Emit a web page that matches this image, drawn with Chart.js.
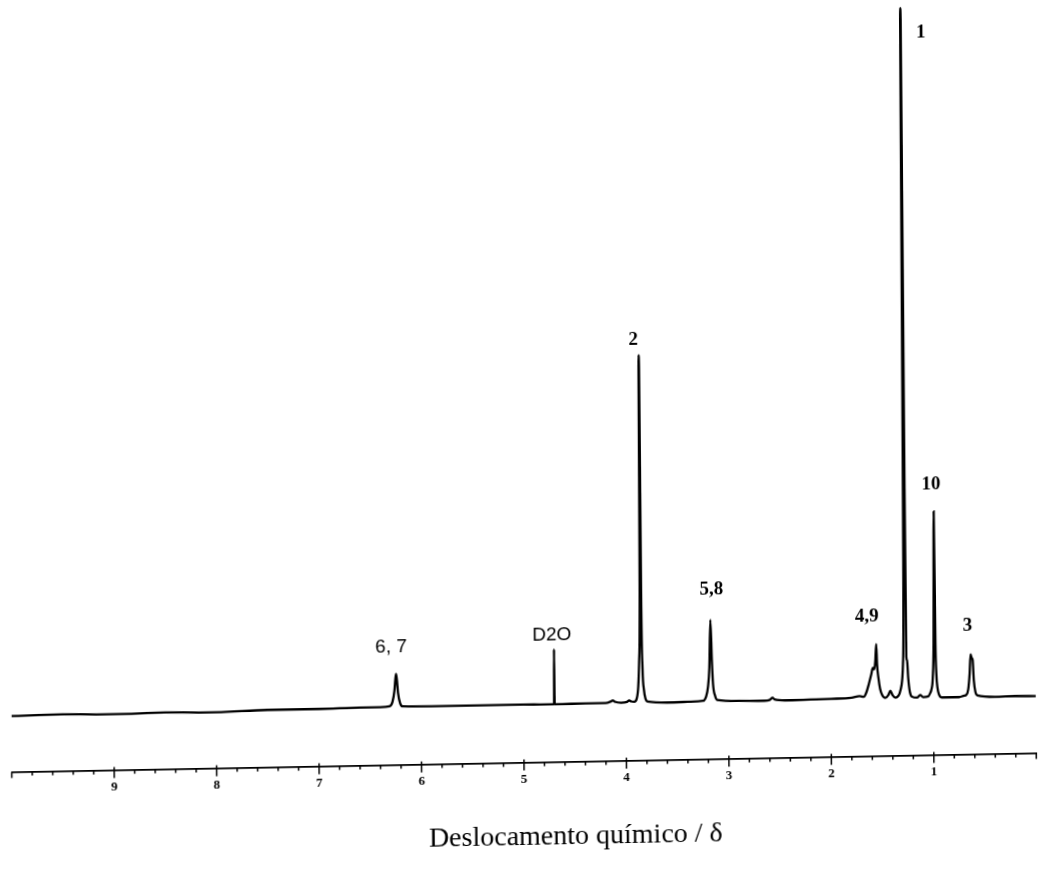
<!DOCTYPE html>
<html>
<head>
<meta charset="utf-8">
<script src="https://cdn.jsdelivr.net/npm/chart.js@4.4.0/dist/chart.umd.min.js"></script>
<style>
  html, body { margin: 0; padding: 0; background: #fff; overflow: hidden; }
  #wrap { width: 1039px; height: 873px; position: relative; }
  #c { display: block; transform-origin: 519.5px 436.5px; transform: matrix(1, -0.0185, 0.007, 1, 0, 0); }
</style>
</head>
<body>
<div id="wrap"><canvas id="c" width="1039" height="873"></canvas></div>
<script>
// Spectrum trace: chemical shift (ppm) and intensity (arbitrary units)
const shiftPpm = [
  10.0, 9.5, 9.0, 8.5, 8.0, 7.5, 7.0, 6.6, 6.40,
  6.31, 6.28, 6.26, 6.25, 6.243, 6.235, 6.225, 6.205, 6.18,
  5.9, 5.5, 5.0, 4.8, 4.72, 4.703, 4.700, 4.697, 4.68,
  4.4, 4.2, 4.15, 4.13, 4.11, 4.05, 3.99, 3.97, 3.95,
  3.92, 3.895, 3.88, 3.87, 3.86, 3.855, 3.851, 3.846, 3.837, 3.825, 3.81, 3.79,
  3.6, 3.4, 3.25,
  3.24, 3.22, 3.20, 3.185, 3.172, 3.16, 3.15, 3.13, 3.11,
  2.9, 2.65, 2.60, 2.57, 2.55, 2.45, 2.2, 2.0, 1.8, 1.72,
  1.68, 1.655, 1.63, 1.605, 1.59, 1.575, 1.565, 1.555, 1.548, 1.535, 1.52, 1.50, 1.47, 1.44, 1.42, 1.40, 1.37, 1.34,
  1.33, 1.31, 1.295, 1.285, 1.278, 1.274, 1.268, 1.262, 1.255, 1.245, 1.23, 1.21,
  1.16, 1.13, 1.10, 1.05, 1.03,
  1.02, 1.005, 0.995, 0.985, 0.977, 0.97, 0.96, 0.945, 0.92,
  0.75, 0.70,
  0.68, 0.66, 0.645, 0.635, 0.625, 0.615, 0.605, 0.59, 0.57,
  0.4, 0.2, 0.0
];
const intensity = [
  -0.1, 0.0, -0.1, 0.0, -0.1, 0.1, 0.1, 0.2, 0.2,
  0.3, 0.9, 2.5, 4.2, 4.9, 4.0, 2.2, 0.7, 0.25,
  0.2, 0.2, 0.2, 0.15, 0.15, 0.15, 8.0, 0.15, 0.15,
  0.2, 0.2, 0.4, 0.55, 0.35, 0.2, 0.3, 0.5, 0.35,
  0.3, 0.8, 2.5, 6.0, 16.0, 49.8, 48.0, 16.0, 5.0, 2.0, 0.7, 0.3,
  0.1, 0.15, 0.25,
  0.3, 0.8, 2.2, 5.0, 11.8, 6.0, 2.6, 0.9, 0.35,
  0.15, 0.1, 0.2, 0.5, 0.25, 0.1, 0.15, 0.2, 0.3, 0.5,
  0.4, 1.0, 2.2, 3.6, 4.5, 4.3, 5.5, 7.9, 5.0, 3.0, 1.5, 0.6, 0.2, 0.6, 1.2, 0.6, 0.2, 0.5,
  0.8, 2.0, 5.0, 20.0, 98.7, 97.0, 30.0, 6.0, 5.5, 3.0, 1.0, 0.3,
  0.15, 0.5, 0.2, 0.3, 0.8,
  1.2, 3.0, 8.0, 26.7, 8.0, 3.5, 1.5, 0.5, 0.1,
  0.1, 0.3,
  0.4, 1.2, 3.5, 6.2, 5.7, 5.4, 2.5, 0.8, 0.3,
  0.05, 0.1, 0.05
];

// Peak assignment labels
const peakLabels = ['6, 7', 'D2O', '2', '5,8', '4,9', '1', '10', '3'];
const labelPpm = [6.29, 4.72, 3.905, 3.16, 1.644, 1.077, 1.01, 0.664];
const labelIntensity = [8.8, 10.0, 52.0, 16.1, 11.9, 95.1, 30.6, 10.2];

// Axis
const axisMin = 0, axisMax = 10, minorStep = 0.2;
const axisTitle = 'Deslocamento químico / δ';
const axisTitleCenterPpm = 4.5;

const sansLabels = ['6, 7', 'D2O'];

const points = shiftPpm.map((p, i) => ({ x: p, y: intensity[i] }));

const isInt = v => Math.abs(v - Math.round(v)) < 1e-6;

const decor = {
  id: 'decor',
  afterDraw(chart) {
    const ctx = chart.ctx;
    const xs = chart.scales.x, ys = chart.scales.y;
    const y0 = xs.top;
    ctx.save();
    // tick marks
    ctx.strokeStyle = '#000';
    ctx.lineWidth = 1.5;
    xs.ticks.forEach(t => {
      const v = t.value;
      const px = xs.getPixelForValue(v);
      let a, b;
      if (isInt(v) && v > axisMin && v < axisMax) { a = -3; b = 8; }
      else if (isInt(v)) { a = 0; b = 6; }
      else { a = 0; b = 4; }
      ctx.beginPath();
      ctx.moveTo(px, y0 + a);
      ctx.lineTo(px, y0 + b);
      ctx.stroke();
    });
    // peak labels
    ctx.fillStyle = '#000';
    ctx.textAlign = 'center';
    ctx.textBaseline = 'middle';
    peakLabels.forEach((txt, i) => {
      ctx.font = sansLabels.includes(txt) ? '19px "Liberation Sans", Arial, sans-serif'
                                          : 'bold 19px "Liberation Serif", "Times New Roman", serif';
      ctx.fillText(txt, xs.getPixelForValue(labelPpm[i]), ys.getPixelForValue(labelIntensity[i]));
    });
    // axis title
    ctx.font = '28px "Liberation Serif", "Times New Roman", serif';
    ctx.textBaseline = 'alphabetic';
    ctx.fillText(axisTitle, xs.getPixelForValue(axisTitleCenterPpm), y0 + 82.4);
    ctx.restore();
  }
};

Chart.defaults.color = '#000';

new Chart(document.getElementById('c'), {
  type: 'line',
  data: {
    datasets: [{
      data: points,
      borderColor: '#000',
      borderWidth: 2.3,
      pointRadius: 0,
      fill: false,
      cubicInterpolationMode: 'monotone'
    }]
  },
  options: {
    responsive: false,
    animation: false,
    events: [],
    parsing: false,
    layout: { padding: { left: 9.5, right: 4.8, top: 6, bottom: 0 } },
    plugins: { legend: { display: false }, tooltip: { enabled: false }, title: { display: false } },
    scales: {
      x: {
        type: 'linear',
        position: 'bottom',
        reverse: true,
        min: axisMin,
        max: axisMax,
        afterFit: s => { s.height = 110.4; s.paddingLeft = 0; s.paddingRight = 0; },
        grid: { display: true, drawOnChartArea: false, drawTicks: false, color: '#000' },
        border: { display: true, color: '#000', width: 1.8 },
        ticks: {
          stepSize: minorStep,
          autoSkip: false,
          maxRotation: 0,
          minRotation: 0,
          padding: 9,
          color: '#000',
          font: { family: '"Liberation Serif", "Times New Roman", serif', size: 13, weight: 'bold' },
          callback: v => (isInt(v) && v > axisMin && v < axisMax) ? String(Math.round(v)) : ''
        }
      },
      y: {
        display: false,
        min: -8.09,
        max: 100
      }
    }
  },
  plugins: [decor]
});
</script>
</body>
</html>
